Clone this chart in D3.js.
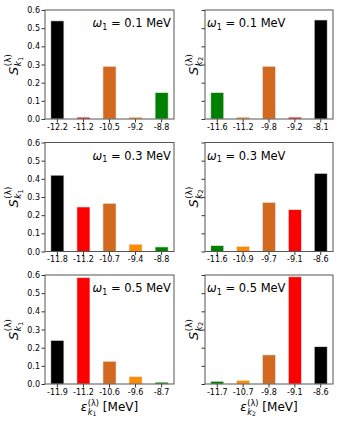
<!DOCTYPE html>
<html>
<head>
<meta charset="utf-8">
<script src="https://cdn.jsdelivr.net/npm/d3@7"></script>
<style>
  body { margin: 0; background: #fff; }
  text { font-family: "DejaVu Sans", sans-serif; }
</style>
</head>
<body>
<div id="chart"></div>
<script>
// values
var omegas = ["0.1", "0.3", "0.5"];

var k1Energies = [
	["-12.2", "-11.2", "-10.5", "-9.2", "-8.8"],
	["-11.8", "-11.2", "-10.7", "-9.4", "-8.8"],
	["-11.9", "-11.2", "-10.6", "-9.6", "-8.7"]
];
var k1Weights = [
	[0.54, 0.01, 0.29, 0.01, 0.145],
	[0.42, 0.245, 0.265, 0.04, 0.025],
	[0.24, 0.585, 0.125, 0.04, 0.01]
];
var k1Colors = ["black", "red", "chocolate", "darkorange", "green"];

var k2Energies = [
	["-11.6", "-11.2", "-9.8", "-9.2", "-8.1"],
	["-11.6", "-10.9", "-9.7", "-9.1", "-8.6"],
	["-11.7", "-10.7", "-9.8", "-9.1", "-8.6"]
];
var k2Weights = [
	[0.145, 0.01, 0.29, 0.01, 0.545],
	[0.032, 0.028, 0.27, 0.23, 0.43],
	[0.015, 0.02, 0.16, 0.59, 0.205]
];
var k2Colors = ["green", "darkorange", "chocolate", "red", "black"];

var yTicks = [0, 0.1, 0.2, 0.3, 0.4, 0.5, 0.6];

var width = 340, height = 425;
var svg = d3.select("#chart").append("svg")
	.attr("width", width).attr("height", height);

// panel geometry
var rowTops = [10, 142.5, 275];
var panelHeight = 109;
var cols = [{ left: 45, width: 129 }, { left: 205, width: 128 }];

// places pieces of a math label one after another, sub/sup stacked
function mathLabel(g, base, sub, subsub, sup, rest, size, supRaise) {
	var t = g.append("text").attr("font-size", size);
	t.append("tspan").attr("font-style", "italic").text(base);
	var x0 = t.node().getComputedTextLength();
	var small = size * 0.68;
	var supT = g.append("text").attr("x", x0 + 0.5).attr("y", -size * supRaise)
		.attr("font-size", small).text(sup || "");
	var subT = g.append("text").attr("x", x0 + 0.5).attr("y", size * 0.3)
		.attr("font-size", small);
	subT.append("tspan").attr("font-style", "italic").text(sub);
	if (subsub) subT.append("tspan").attr("font-size", small * 0.75)
		.attr("dy", size * 0.1).text(subsub);
	var w = Math.max(supT.node().getComputedTextLength(), subT.node().getComputedTextLength());
	var total = x0 + 0.5 + w;
	if (rest) {
		total += size * 0.32; // the space
		var r = g.append("text").attr("x", total).attr("font-size", size).text(rest);
		total += r.node().getComputedTextLength();
	}
	return total;
}

function drawPanel(row, col, energies, weights, colors, kIndex) {
	var c = cols[col];
	var top = rowTops[row];
	var g = svg.append("g").attr("transform", "translate(" + c.left + "," + top + ")");

	var x = d3.scaleBand().domain(energies).range([0, c.width])
		.paddingInner(0.5).paddingOuter(0.225);
	var y = d3.scaleLinear().domain([0, 0.6]).range([panelHeight, 0]);

	g.selectAll(".bar").data(weights).enter().append("rect")
		.attr("x", function(d, i) { return x(energies[i]); })
		.attr("y", function(d) { return y(d); })
		.attr("width", x.bandwidth())
		.attr("height", function(d) { return y(0) - y(d); })
		.attr("fill", function(d, i) { return colors[i]; })
		.attr("stroke", "#e6e6e6")
		.attr("stroke-width", 0.6);

	// axes
	var yAxis = d3.axisLeft(y).tickValues(yTicks).tickSize(3.5).tickPadding(1.5)
		.tickFormat(col === 0 ? d3.format(".1f") : function() { return ""; });
	var ya = g.append("g").call(yAxis);
	var xa = g.append("g").attr("transform", "translate(0," + panelHeight + ")")
		.call(d3.axisBottom(x).tickSize(3.5).tickPadding(1.5));
	[ya, xa].forEach(function(a) {
		a.select(".domain").remove();
		a.selectAll("text").attr("font-size", 8).attr("fill", "#000")
			.attr("font-family", "DejaVu Sans, sans-serif");
		a.selectAll("line").attr("stroke", "#000").attr("stroke-width", 0.8);
	});

	g.append("rect").attr("width", c.width).attr("height", panelHeight)
		.attr("fill", "none").attr("stroke", "#555").attr("stroke-width", 1);

	// omega label
	var lab = g.append("g");
	var t = lab.append("text").attr("font-size", 11.5);
	t.append("tspan").attr("font-style", "italic").text("\u03c9");
	t.append("tspan").attr("font-size", 8).attr("dy", 2.5).text("1");
	t.append("tspan").attr("dy", -2.5).text("\u00a0= " + omegas[row] + " MeV");
	var tw = t.node().getComputedTextLength();
	var lx = col === 0 ? c.width - 3 - tw : 2;
	lab.attr("transform", "translate(" + lx + ",17)");

	// y label
	var yl = svg.append("g");
	var inner = yl.append("g");
	var total = mathLabel(inner, "S", "k", kIndex, "(\u03bb)", "", 13, 0.5);
	inner.attr("transform", "translate(" + (-total / 2) + ",0)");
	var ylx = col === 0 ? 17.5 : 198;
	yl.attr("transform", "translate(" + ylx + "," + (top + panelHeight / 2) + ") rotate(-90)");

	// x label on bottom row
	if (row === 2) {
		var xl = svg.append("g");
		var inner2 = xl.append("g");
		var total2 = mathLabel(inner2, "\u03b5", "k", kIndex, "(\u03bb)", "[MeV]", 12, 0.42);
		inner2.attr("transform", "translate(" + (-total2 / 2) + ",0)");
		xl.attr("transform", "translate(" + (c.left + c.width / 2) + ",411)");
	}
}

for (var r = 0; r < 3; r++) {
	drawPanel(r, 0, k1Energies[r], k1Weights[r], k1Colors, "1");
	drawPanel(r, 1, k2Energies[r], k2Weights[r], k2Colors, "2");
}
</script>
</body>
</html>
